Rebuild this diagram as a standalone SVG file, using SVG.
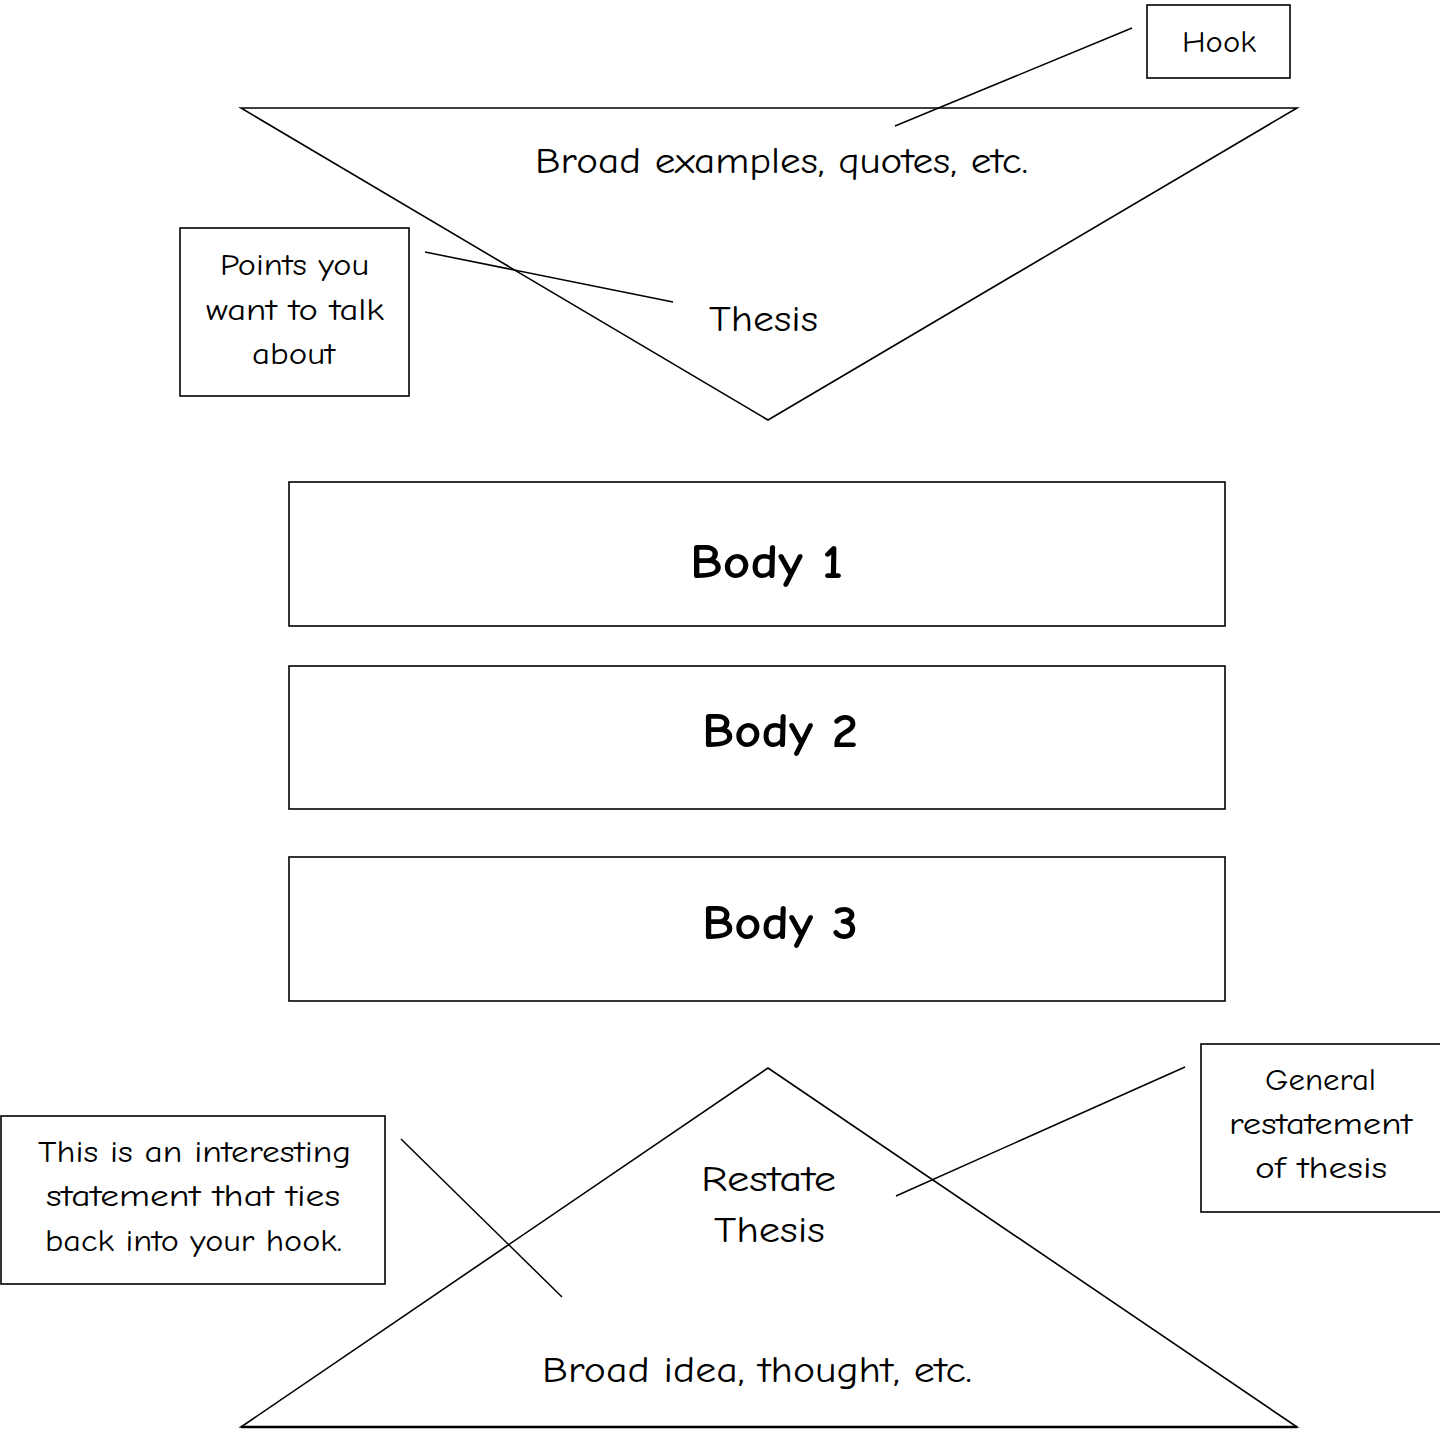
<svg xmlns="http://www.w3.org/2000/svg" width="1440" height="1429" viewBox="0 0 1440 1429">
<style>
.shape{fill:none;stroke:#000;stroke-width:1.6}
.box{fill:#fff;stroke:#000;stroke-width:1.6}
.conn line{stroke:#000;stroke-width:1.5}
text{font-family:"Comic Sans MS","Comic Neue","Open Sans",sans-serif;fill:#000}
.t{font-size:36px}
.s{font-size:31px}
.b{font-size:48px;font-weight:bold}
</style>
<rect width="1440" height="1429" fill="#fff"/>
<g id="intro-triangle">
<polygon class="shape" points="241,108 1297,108 768,420"/>
<text class="t" x="535" y="173" textLength="493" lengthAdjust="spacingAndGlyphs">Broad examples, quotes, etc.</text>
<text class="t" x="709" y="331" textLength="109" lengthAdjust="spacingAndGlyphs">Thesis</text>
</g>
<g id="hook">
<rect class="box" x="1147" y="5" width="143" height="73"/>
<text class="s" x="1182" y="52" textLength="74" lengthAdjust="spacingAndGlyphs">Hook</text>
</g>
<g id="points">
<rect class="box" x="180" y="228" width="229" height="168"/>
<text class="s" x="220" y="275" textLength="149" lengthAdjust="spacingAndGlyphs">Points you</text>
<text class="s" x="206" y="320" textLength="178" lengthAdjust="spacingAndGlyphs">want to talk</text>
<text class="s" x="252" y="364" textLength="83" lengthAdjust="spacingAndGlyphs">about</text>
</g>
<g id="body1">
<rect class="box" x="289" y="482" width="936" height="144"/>
<text class="b" x="690" y="578" textLength="153" lengthAdjust="spacingAndGlyphs">Body 1</text>
</g>
<g id="body2">
<rect class="box" x="289" y="666" width="936" height="143"/>
<text class="b" x="702" y="747" textLength="156" lengthAdjust="spacingAndGlyphs">Body 2</text>
</g>
<g id="body3">
<rect class="box" x="289" y="857" width="936" height="144"/>
<text class="b" x="702" y="939" textLength="156" lengthAdjust="spacingAndGlyphs">Body 3</text>
</g>
<g id="conclusion-triangle">
<polygon class="shape" points="768,1068 1297,1427 241,1427"/>
<line x1="241" y1="1427" x2="1297" y2="1427" stroke="#000" stroke-width="2.5"/>
<text class="t" x="701" y="1191" textLength="135" lengthAdjust="spacingAndGlyphs">Restate</text>
<text class="t" x="714" y="1242" textLength="111" lengthAdjust="spacingAndGlyphs">Thesis</text>
<text class="t" x="542" y="1382" textLength="430" lengthAdjust="spacingAndGlyphs">Broad idea, thought, etc.</text>
</g>
<g id="general">
<rect class="box" x="1201" y="1044" width="245" height="168"/>
<text class="s" x="1265" y="1090" textLength="111" lengthAdjust="spacingAndGlyphs">General</text>
<text class="s" x="1229" y="1134" textLength="183" lengthAdjust="spacingAndGlyphs">restatement</text>
<text class="s" x="1255" y="1178" textLength="132" lengthAdjust="spacingAndGlyphs">of thesis</text>
</g>
<g id="interesting">
<rect class="box" x="1" y="1116" width="384" height="168"/>
<text class="s" x="38" y="1162" textLength="313" lengthAdjust="spacingAndGlyphs">This is an interesting</text>
<text class="s" x="46" y="1206" textLength="294" lengthAdjust="spacingAndGlyphs">statement that ties</text>
<text class="s" x="45" y="1251" textLength="297" lengthAdjust="spacingAndGlyphs">back into your hook.</text>
</g>
<g id="connectors" class="conn">
<line x1="1132" y1="28" x2="895" y2="126"/>
<line x1="425" y1="252" x2="673" y2="302"/>
<line x1="1185" y1="1067" x2="896" y2="1196"/>
<line x1="401" y1="1139" x2="562" y2="1297"/>
</g>
</svg>
